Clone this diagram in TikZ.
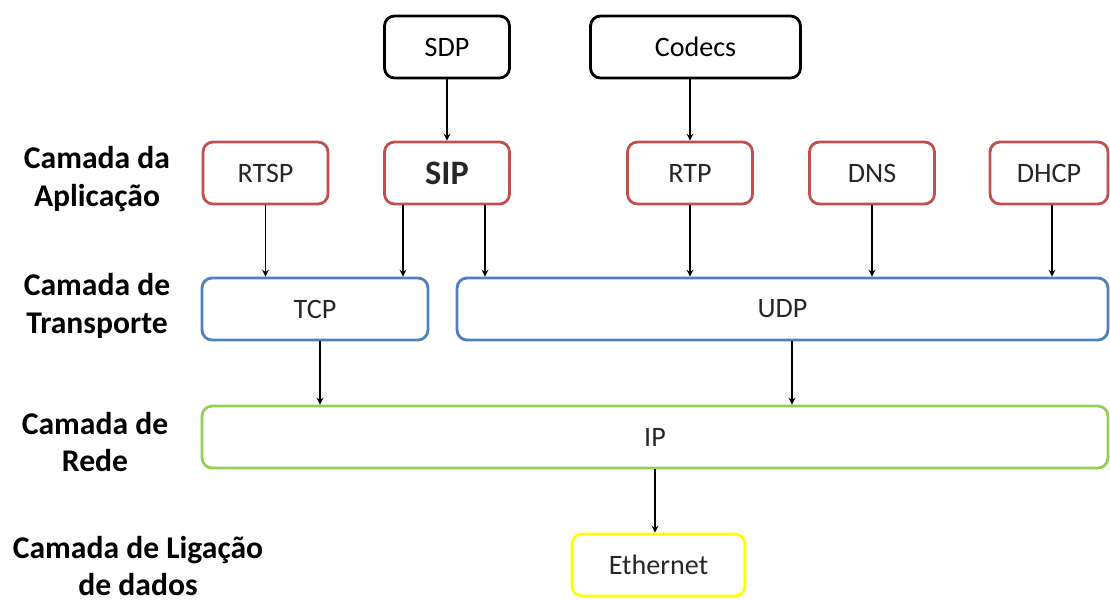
\documentclass[tikz,border=0pt]{standalone}
\usepackage{fontspec}
\setmainfont{Carlito}
\usetikzlibrary{positioning}

\definecolor{appred}{RGB}{192,80,77}
\definecolor{trblue}{RGB}{79,129,189}
\definecolor{netgreen}{RGB}{146,208,80}
\definecolor{linkyellow}{RGB}{255,255,0}

\begin{document}
\begin{tikzpicture}[x=0.02cm, y=-0.02cm,
  box/.style={draw, rounded corners=0.2cm, line width=1.6pt, minimum height=1.24cm,
    font=\fontsize{16}{19}\selectfont, text=black!85},
  extbox/.style={box, color=black},
  appbox/.style={box, draw=appred, minimum width=2.5cm},
  trbox/.style={box, draw=trblue},
  netbox/.style={box, draw=netgreen},
  linkbox/.style={box, draw=linkyellow},
  layer/.style={align=center, font=\fontsize{18}{21.5}\selectfont\bfseries},
  arr/.style={arrows=-stealth, line width=0.75pt}]
\useasboundingbox (0,0) rectangle (1110,599);
\begin{scope}
\clip (0,0) rectangle (1110,599);
% top boxes
\node (sdp)[extbox, minimum width=2.5cm] at (447,47) {SDP};
\node (codecs)[extbox, minimum width=4.2cm] at (695.5,47) {Codecs};
% application layer
\node (rtsp)[appbox] at (265.5,173) {RTSP};
\node (sip)[appbox, font=\fontsize{19.5}{22}\selectfont\bfseries] at (447,173) {SIP};
\node (rtp)[appbox] at (690,173) {RTP};
\node (dns)[appbox] at (872,173) {DNS};
\node (dhcp)[appbox, minimum width=2.36cm] at (1049,173) {DHCP};
% transport layer
\node (tcp)[trbox, minimum width=4.52cm] at (315,309) {TCP};
\node (udp)[trbox, minimum width=13.02cm] at (782.5,309) {UDP};
% network and link layer
\node (ip)[netbox, minimum width=18.12cm] at (655,437) {IP};
\node (eth)[linkbox, minimum width=3.46cm] at (658.5,565) {Ethernet};
\end{scope}
% layer names
\node (lapp)[layer] at (97,179) {Camada da\\Aplicação};
\node (ltr)[layer] at (97,306) {Camada de\\Transporte};
\node (lnet)[layer] at (95,442) {Camada de\\Rede};
\node (llink)[layer] at (138,566) {Camada de Ligação\\de dados};
% connectors
\draw[arr] (sdp.south) -- (sdp.south |- sip.north);
\draw[arr] ([xshift=-0.11cm]codecs.south) -- ([xshift=-0.11cm]codecs.south |- rtp.north);
\draw[arr] (rtsp.south) -- (rtsp.south |- tcp.north);
\draw[arr] ([xshift=-0.88cm]sip.south) -- ([xshift=-0.88cm]sip.south |- tcp.north);
\draw[arr] ([xshift=0.76cm]sip.south) -- ([xshift=0.76cm]sip.south |- udp.north);
\draw[arr] (rtp.south) -- (rtp.south |- udp.north);
\draw[arr] (dns.south) -- (dns.south |- udp.north);
\draw[arr] ([xshift=0.06cm]dhcp.south) -- ([xshift=0.06cm]dhcp.south |- udp.north);
\draw[arr] ([xshift=0.1cm]tcp.south) -- ([xshift=0.1cm]tcp.south |- ip.north);
\draw[arr] ([xshift=0.19cm]udp.south) -- ([xshift=0.19cm]udp.south |- ip.north);
\draw[arr] (ip.south) -- (ip.south |- eth.north);
\end{tikzpicture}
\end{document}
